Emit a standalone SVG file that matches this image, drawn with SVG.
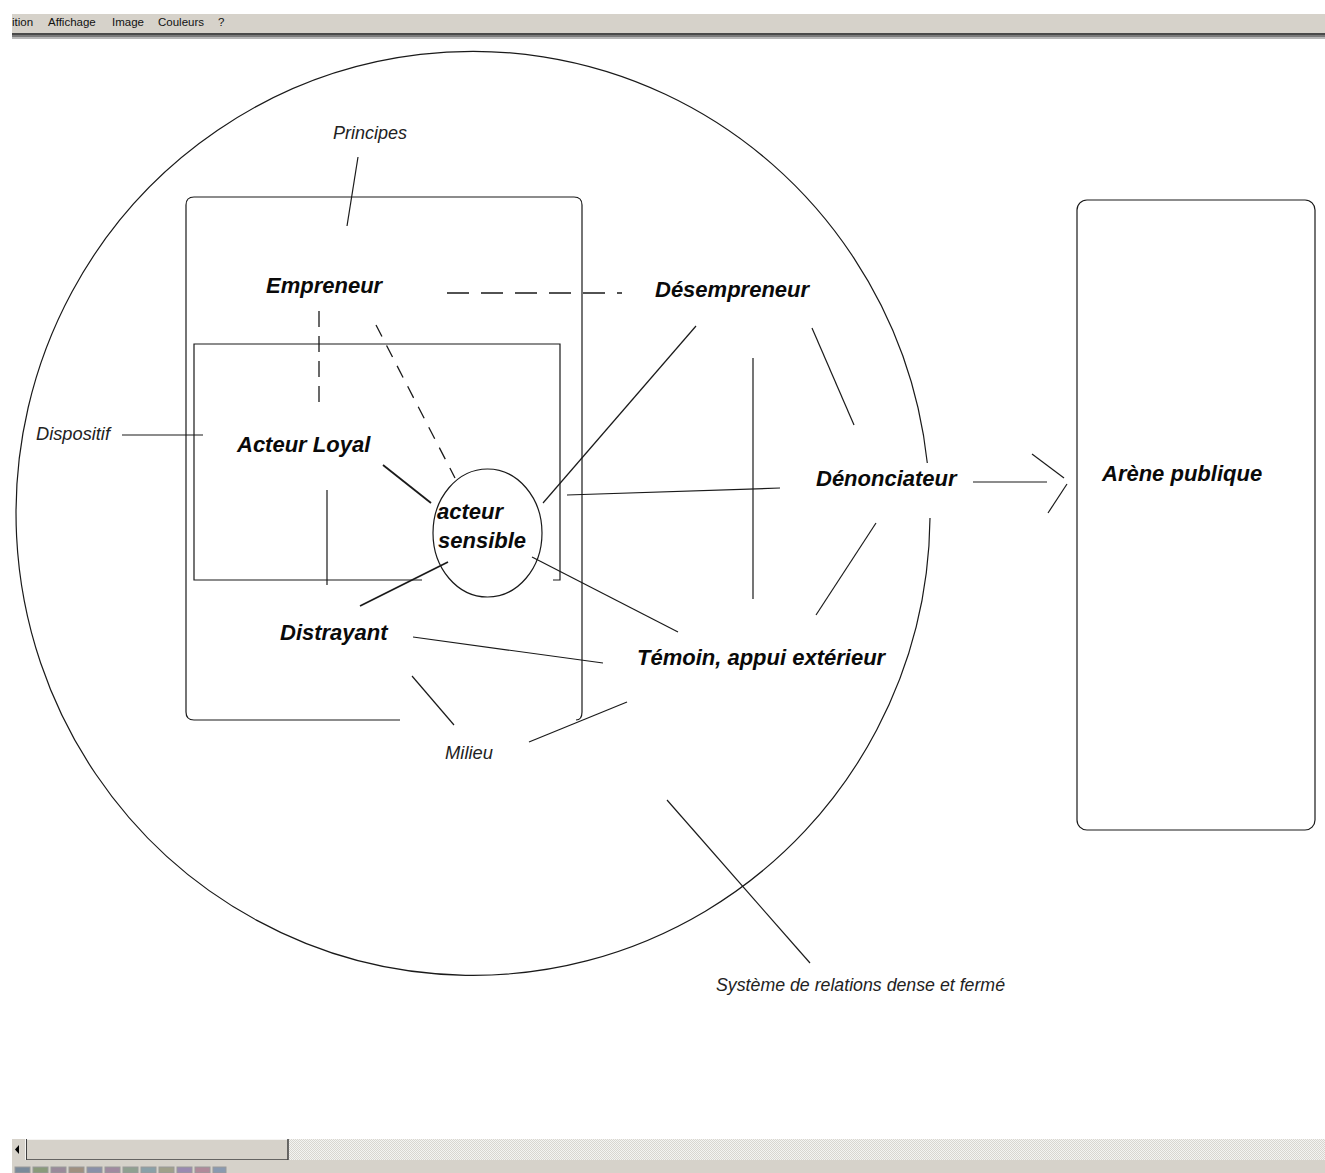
<svg xmlns="http://www.w3.org/2000/svg" width="1325" height="1173" viewBox="0 0 1325 1173">
<defs>
<style>
.ln{stroke:#1a1a1a;stroke-width:1.2;fill:none;stroke-linecap:butt}
.thk{stroke:#1a1a1a;stroke-width:1.8;fill:none}
.dsh{stroke:#1a1a1a;stroke-width:1.3;fill:none}
.lbl{font-family:"Liberation Sans",Arial,sans-serif;font-weight:bold;font-style:italic;font-size:22px;fill:#0a0a0a}
.note{font-family:"Liberation Sans",Arial,sans-serif;font-style:italic;font-size:18px;fill:#222}
.menu{font-family:"Liberation Sans",Tahoma,sans-serif;font-size:11.5px;fill:#111}
</style>
<pattern id="dither" width="2" height="2" patternUnits="userSpaceOnUse">
<rect width="2" height="2" fill="#f4f4f2"/>
<rect width="1" height="1" fill="#d8d6d0"/>
<rect x="1" y="1" width="1" height="1" fill="#d8d6d0"/>
</pattern>
</defs>
<rect width="1325" height="1173" fill="#ffffff"/>

<!-- window chrome: menu bar -->
<g id="menubar">
<rect x="12" y="14" width="1313" height="20" fill="#d6d2ca"/>
<rect x="12" y="33" width="1313" height="2" fill="#4a4a4a"/>
<rect x="12" y="35" width="1313" height="2" fill="#7a7a7a"/>
<rect x="12" y="37" width="1313" height="2" fill="#b8b8b8"/>
<text class="menu" x="12" y="26">ition</text>
<text class="menu" x="48" y="26">Affichage</text>
<text class="menu" x="112" y="26">Image</text>
<text class="menu" x="158" y="26">Couleurs</text>
<text class="menu" x="218" y="26">?</text>
</g>

<!-- window chrome: scrollbar and palette -->
<g id="scrollbar">
<rect x="12" y="1139" width="1313" height="21" fill="url(#dither)"/>
<rect x="12" y="1139" width="14" height="21" fill="#d6d2ca"/>
<path d="M19 1145 L15 1149.5 L19 1154 Z" fill="#000"/>
<rect x="26" y="1139" width="262" height="21" fill="#d6d2ca"/>
<path d="M26 1160 V1139 H288" stroke="#ffffff" stroke-width="1.5" fill="none"/>
<path d="M288 1139 V1160 H26" stroke="#404040" stroke-width="1.5" fill="none"/>
<path d="M26.5 1139 V1160" stroke="#404040" stroke-width="1"/>
<rect x="12" y="1160" width="1313" height="13" fill="#d6d2ca"/>
<g stroke="#9a9a9a" stroke-width="1">
<rect x="15" y="1167" width="15" height="6" fill="#7a8a9a"/>
<rect x="33" y="1167" width="15" height="6" fill="#8a9a7a"/>
<rect x="51" y="1167" width="15" height="6" fill="#9a8a9a"/>
<rect x="69" y="1167" width="15" height="6" fill="#a09080"/>
<rect x="87" y="1167" width="15" height="6" fill="#8a90a8"/>
<rect x="105" y="1167" width="15" height="6" fill="#a08aa0"/>
<rect x="123" y="1167" width="15" height="6" fill="#90a090"/>
<rect x="141" y="1167" width="15" height="6" fill="#8aa0a8"/>
<rect x="159" y="1167" width="15" height="6" fill="#a0a08a"/>
<rect x="177" y="1167" width="15" height="6" fill="#9a8ab0"/>
<rect x="195" y="1167" width="15" height="6" fill="#b08a9a"/>
<rect x="213" y="1167" width="13" height="6" fill="#8a9ab0"/>
</g>
</g>

<!-- big circle: Système de relations dense et fermé (gap at Dénonciateur) -->
<g id="systeme">
<path class="ln" d="M927.3 463 A457 462 0 1 0 930 518"/>
<text class="note" x="716" y="991" textLength="289" lengthAdjust="spacingAndGlyphs">Système de relations dense et fermé</text>
</g>

<!-- Principes box (rounded, bottom edge open) -->
<g id="principes">
<path class="ln" d="M400 720 H194 Q186 720 186 712 V205 Q186 197 194 197 H574 Q582 197 582 205 V712 Q582 720 576 720"/>
<text class="note" x="333" y="139" textLength="74" lengthAdjust="spacingAndGlyphs">Principes</text>
</g>

<!-- Dispositif box (bottom edge partly open) -->
<g id="dispositif">
<path class="ln" d="M422 580 H194 V344 H560 V580 H553"/>
<text class="note" x="36" y="440" textLength="74" lengthAdjust="spacingAndGlyphs">Dispositif</text>
</g>

<g id="milieu">
<text class="note" x="445" y="759" textLength="48" lengthAdjust="spacingAndGlyphs">Milieu</text>
</g>

<g id="empreneur"><text class="lbl" x="266" y="293">Empreneur</text></g>
<g id="desempreneur"><text class="lbl" x="655" y="297">Désempreneur</text></g>
<g id="acteur-loyal"><text class="lbl" x="237" y="452">Acteur Loyal</text></g>
<g id="denonciateur"><text class="lbl" x="816" y="486">Dénonciateur</text></g>
<g id="distrayant"><text class="lbl" x="280" y="640">Distrayant</text></g>
<g id="temoin"><text class="lbl" x="637" y="665">Témoin, appui extérieur</text></g>

<g id="acteur-sensible">
<ellipse class="ln" cx="487.5" cy="533" rx="54.5" ry="64" stroke-width="1"/>
<text class="lbl" x="437" y="519">acteur</text>
<text class="lbl" x="438" y="548">sensible</text>
</g>

<g id="arene">
<rect class="ln" x="1077" y="200" width="238" height="630" rx="10" ry="10"/>
<text class="lbl" x="1102" y="481">Arène publique</text>
</g>

<!-- connectors -->
<g id="connectors">
<line class="ln" x1="358" y1="157" x2="347" y2="226"/>
<line class="ln" x1="122" y1="435" x2="203" y2="435"/>
<line class="dsh" x1="319" y1="311" x2="319" y2="408" stroke-dasharray="16 9"/>
<line class="dsh" x1="376" y1="325" x2="455" y2="478" stroke-dasharray="13 10"/>
<line class="dsh" x1="447" y1="293" x2="622" y2="293" stroke-dasharray="22 12"/>
<line class="thk" x1="383" y1="465" x2="431" y2="503"/>
<line class="ln" x1="327" y1="490" x2="327" y2="585"/>
<line class="thk" x1="448" y1="562" x2="360" y2="606"/>
<line class="ln" x1="543" y1="503" x2="696" y2="326"/>
<line class="ln" x1="567" y1="495" x2="780" y2="488"/>
<line class="ln" x1="753" y1="358" x2="753" y2="599"/>
<line class="ln" x1="812" y1="328" x2="854" y2="425"/>
<line class="ln" x1="876" y1="523" x2="816" y2="615"/>
<line class="ln" x1="532" y1="557" x2="678" y2="632"/>
<line class="ln" x1="413" y1="637" x2="603" y2="663"/>
<line class="ln" x1="412" y1="676" x2="454" y2="725"/>
<line class="ln" x1="627" y1="702" x2="529" y2="742"/>
<line class="ln" x1="973" y1="482" x2="1047" y2="482"/>
<line class="ln" x1="1032" y1="454" x2="1064" y2="478"/>
<line class="ln" x1="1067" y1="484" x2="1048" y2="513"/>
<line class="ln" x1="667" y1="800" x2="810" y2="963"/>
</g>
</svg>
